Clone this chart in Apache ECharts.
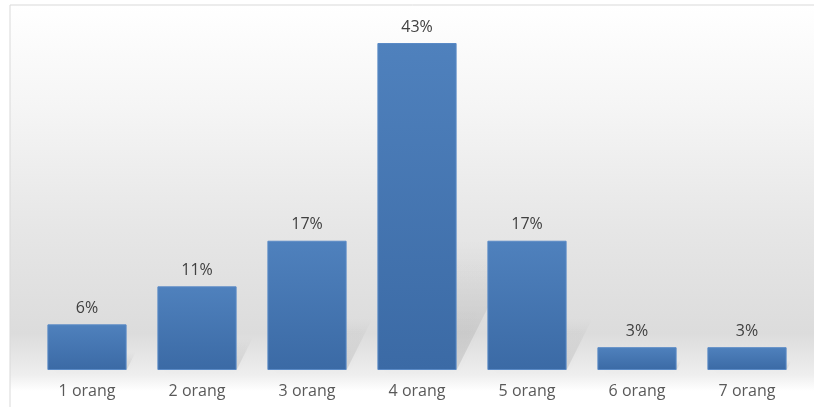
<!DOCTYPE html>
<html>
<head>
<meta charset="utf-8">
<script src="https://cdn.jsdelivr.net/npm/echarts@6/dist/echarts.min.js"></script>
<style>
html,body{margin:0;padding:0;background:#fff;}
#c{width:814px;height:407px;}
</style>
</head>
<body>
<div id="c"></div>
<script>
var categories = ['1 orang', '2 orang', '3 orang', '4 orang', '5 orang', '6 orang', '7 orang'];
var values = [6, 11, 17, 43, 17, 3, 3];
var labels = ['6%', '11%', '17%', '43%', '17%', '3%', '3%'];

var chart = echarts.init(document.getElementById('c'), null, {renderer: 'canvas'});
var font = '"Open Sans", "Liberation Sans", sans-serif';

function shadowItem(params, api) {
  var v = api.value(1);
  var base = api.coord([api.value(0), 0]);
  var top = api.coord([api.value(0), v]);
  var size = api.size([1, 0]);
  var bw = size[0] * 0.72;
  var xl = base[0] - bw / 2, xr = base[0] + bw / 2;
  var h = (base[1] - top[1]) * 0.4;
  var dx = h * 0.5;
  return {
    type: 'polygon',
    shape: {points: [[xl + 6, base[1]], [xr, base[1]], [xr + dx, base[1] - h], [xl + 6 + dx, base[1] - h]]},
    style: {
      fill: new echarts.graphic.LinearGradient(0, 1, 0, 0, [
        {offset: 0, color: 'rgba(0,0,0,0.10)'},
        {offset: 1, color: 'rgba(0,0,0,0)'}
      ]),
      shadowBlur: 8,
      shadowColor: 'rgba(0,0,0,0.12)'
    }
  };
}

chart.setOption({
  animation: false,
  backgroundColor: '#ffffff',
  graphic: [
    {
      type: 'rect', z: -10, silent: true,
      shape: {x: 10, y: 5, width: 814, height: 410},
      style: {
        fill: new echarts.graphic.LinearGradient(0, 0, 0, 1, [
          {offset: 0, color: '#ffffff'},
          {offset: 0.25, color: '#f5f5f5'},
          {offset: 0.55, color: '#e6e6e6'},
          {offset: 0.8, color: '#dcdcdc'},
          {offset: 0.9, color: '#eeeeee'},
          {offset: 0.94, color: '#ffffff'},
          {offset: 1, color: '#ffffff'}
        ]),
        stroke: '#d9d9d9', lineWidth: 1
      }
    }
  ],
  grid: {left: 32, width: 770, top: 43, bottom: 37, containLabel: false},
  xAxis: {
    type: 'category',
    data: categories,
    axisLine: {show: false},
    axisTick: {show: false},
    axisLabel: {color: '#595959', fontSize: 16, fontFamily: font, margin: 13}
  },
  yAxis: {
    type: 'value', min: 0, max: 43,
    show: false,
    splitLine: {show: false}
  },
  series: [
    {
      type: 'custom',
      renderItem: shadowItem,
      data: values.map(function (v, i) { return [i, v]; }),
      z: 1,
      silent: true
    },
    {
      type: 'bar',
      data: values,
      barCategoryGap: '28%',
      z: 2,
      itemStyle: {
        color: new echarts.graphic.LinearGradient(0, 0, 0, 1, [
          {offset: 0, color: '#4f81bd'},
          {offset: 1, color: '#3b6aa5'}
        ]),
        borderColor: '#5a8ac6',
        borderWidth: 1
      },
      label: {
        show: true,
        position: 'top',
        distance: 8,
        color: '#404040',
        fontSize: 16,
        fontFamily: font,
        formatter: function (p) { return labels[p.dataIndex]; }
      }
    }
  ]
});
</script>
</body>
</html>
